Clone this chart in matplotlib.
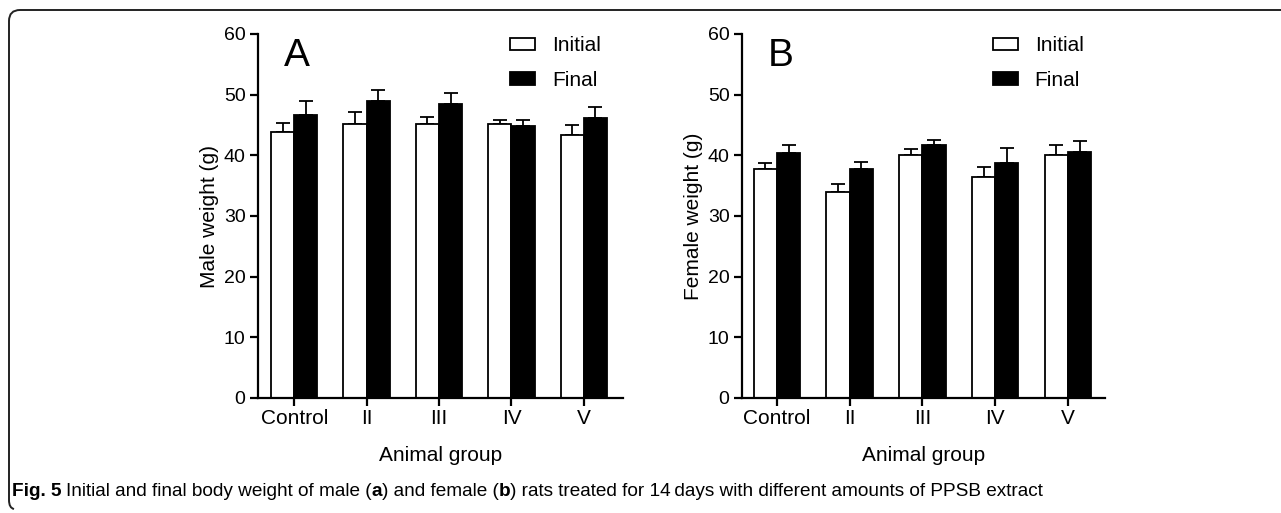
import matplotlib
matplotlib.use('Agg')
import matplotlib.pyplot as plt
from matplotlib.path import Path
from matplotlib.patches import PathPatch
import numpy as np

plt.rcParams['font.family'] = ['Liberation Sans', 'DejaVu Sans']

groups = ['Control', 'II', 'III', 'IV', 'V']
series = ['Initial', 'Final']

# male weights (g), mean and upper error
male_initial = [43.8, 45.1, 45.2, 45.1, 43.4]
male_initial_err = [1.5, 2.0, 1.2, 0.8, 1.6]
male_final = [46.6, 49.0, 48.4, 44.9, 46.1]
male_final_err = [2.4, 1.7, 1.8, 0.9, 1.9]

# female weights (g)
female_initial = [37.8, 33.9, 40.0, 36.5, 40.0]
female_initial_err = [0.9, 1.4, 1.0, 1.5, 1.7]
female_final = [40.4, 37.7, 41.7, 38.7, 40.5]
female_final_err = [1.3, 1.2, 0.9, 2.5, 1.8]

yticks = [0, 10, 20, 30, 40, 50, 60]

W, H = 1281, 513
fig = plt.figure(figsize=(W / 100, H / 100), dpi=100)


def draw_panel(rect, initial, ierr, final, ferr, ylabel, letter, xlim):
    ax = fig.add_axes(rect)
    x = np.arange(len(groups))
    bw = 0.32
    ax.bar(x - bw / 2, initial, bw, color='white', edgecolor='black', linewidth=1.3, label=series[0], zorder=2)
    ax.bar(x + bw / 2, final, bw, color='black', edgecolor='black', linewidth=1.3, label=series[1], zorder=2)
    ax.errorbar(x - bw / 2, initial, yerr=[np.zeros(len(ierr)), ierr], fmt='none',
                ecolor='black', elinewidth=1.3, capsize=5, capthick=1.3, zorder=1)
    ax.errorbar(x + bw / 2, final, yerr=[np.zeros(len(ferr)), ferr], fmt='none',
                ecolor='black', elinewidth=1.3, capsize=5, capthick=1.3, zorder=1)
    ax.set_xlim(*xlim)
    ax.set_ylim(0, 60)
    ax.set_yticks(yticks)
    ax.set_xticks(x)
    ax.set_xticklabels(groups)
    for s in ['top', 'right']:
        ax.spines[s].set_visible(False)
    for s in ['left', 'bottom']:
        ax.spines[s].set_linewidth(1.6)
    ax.tick_params(axis='both', width=1.6, length=6, labelsize=14, pad=3)
    ax.tick_params(axis='x', labelsize=15, pad=2)
    ax.set_ylabel(ylabel, fontsize=15, labelpad=3)
    ax.set_xlabel('Animal group', fontsize=15, labelpad=13)
    ax.text(0.07, 0.99, letter, transform=ax.transAxes, fontsize=28, va='top', ha='left')
    ax.legend(loc='upper left', bbox_to_anchor=(0.64, 1.045), frameon=False, fontsize=15,
              handlelength=1.2, handleheight=0.55, handletextpad=0.8, labelspacing=0.75)
    return ax


draw_panel([258 / W, 1 - 398 / H, 365 / W, 364 / H], male_initial, male_initial_err,
           male_final, male_final_err, 'Male weight (g)', 'A', (-0.5, 4.54))
draw_panel([742 / W, 1 - 398 / H, 363 / W, 364 / H], female_initial, female_initial_err,
           female_final, female_final_err, 'Female weight (g)', 'B', (-0.48, 4.51))

# frame around the figure (top line + left side with rounded corners)
def px(xp, yp):
    return (xp / W, 1 - yp / H)

verts = [px(W, 10), px(20, 10), px(9, 10), px(9, 21), px(9, 500), px(9, 508), px(14, 509)]
codes = [Path.MOVETO, Path.LINETO, Path.CURVE3, Path.CURVE3, Path.LINETO, Path.CURVE3, Path.CURVE3]
fig.add_artist(PathPatch(Path(verts, codes), transform=fig.transFigure, fill=False,
                         edgecolor='#222222', linewidth=1.4))

cap_family = ['Liberation Sans Narrow', 'Liberation Sans', 'DejaVu Sans']
cap_size = 13.7
t1 = fig.text(12 / W, 1 - 491 / H, 'Fig. 5', fontsize=cap_size, fontweight='bold', family=cap_family, va='center')
fig.canvas.draw()
bb = t1.get_window_extent()
caption = [('Initial and final body weight of male (', 'normal'), ('a', 'bold'),
           (') and female (', 'normal'), ('b', 'bold'),
           (') rats treated for 14\u2009days with different amounts of PPSB extract', 'normal')]
xcur = bb.x1 + 4
for txt, wgt in caption:
    t = fig.text(xcur / W, 1 - 491 / H, txt, fontsize=cap_size, fontweight=wgt, family=cap_family, va='center')
    fig.canvas.draw()
    xcur = t.get_window_extent().x1

fig.savefig('out.png', dpi=100)
